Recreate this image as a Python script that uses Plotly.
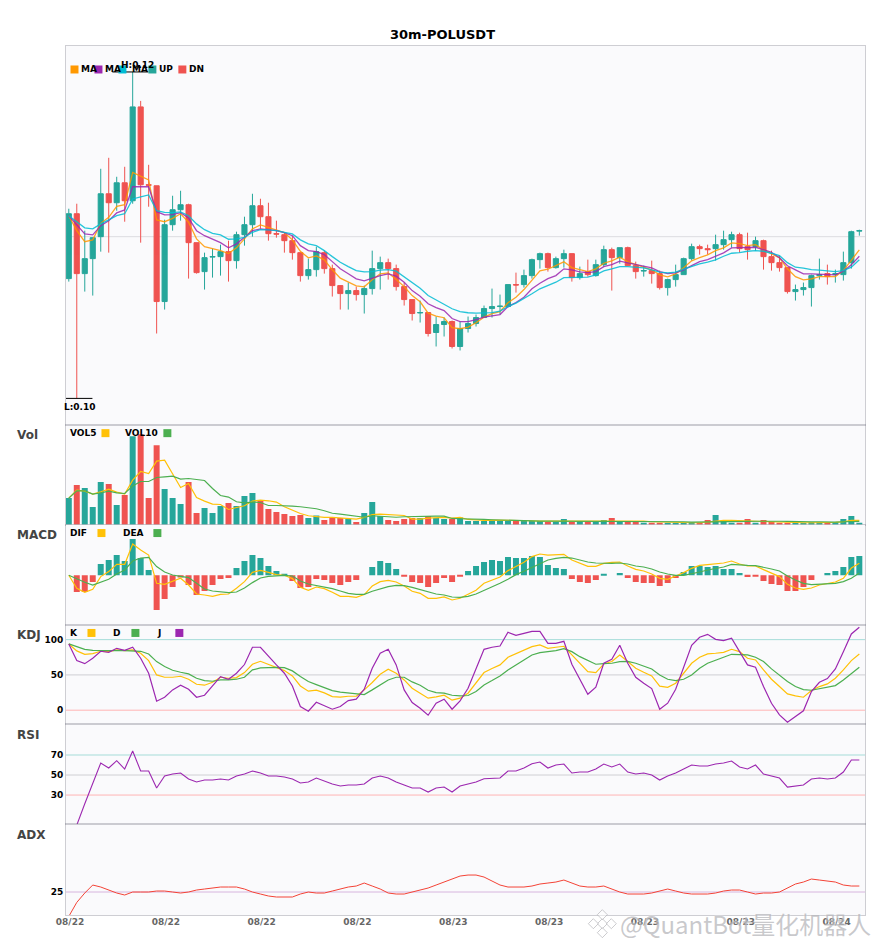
#Libraries
import numpy as np
import plotly.graph_objects as go
from plotly.subplots import make_subplots

#X axis, one 30m bar per position
bars = list(range(100))
tick_pos = [0, 12, 24, 36, 48, 60, 72, 84, 96]
tick_labels = ['08/22', '08/22', '08/22', '08/22', '08/23', '08/23', '08/23', '08/23', '08/24']

#Candles, price x 1e5
opens = [11000, 11325, 11025, 11100, 11210, 11425, 11380, 11480, 11390, 11860,
         11470, 11465, 10885, 11270, 11345, 11370, 11180, 11035, 11108, 11110,
         11135, 11090, 11220, 11270, 11365, 11310, 11225, 11220, 11190, 11130,
         11015, 11045, 11130, 11050, 10965, 10925, 10940, 10920, 10950, 11050,
         11080, 11050, 10960, 10895, 10828, 10830, 10730, 10770, 10785, 10660,
         10750, 10775, 10805, 10850, 10860, 10860, 10970, 10970, 11015, 11095,
         11125, 11055, 11100, 11125, 11005, 11035, 11015, 11070, 11145, 11105,
         11155, 11065, 11038, 11040, 11025, 10955, 10995, 11020, 11100, 11160,
         11150, 11150, 11170, 11195, 11220, 11160, 11160, 11190, 11110, 11080,
         11055, 10935, 10945, 10955, 11015, 11025, 11020, 11020, 11080, 11238]
closes = [11325, 11025, 11100, 11205, 11425, 11380, 11480, 11390, 11860, 11470,
          11468, 10885, 11270, 11345, 11370, 11180, 11030, 11105, 11110, 11135,
          11090, 11220, 11270, 11365, 11310, 11225, 11223, 11190, 11130, 11015,
          11045, 11135, 11050, 10965, 10925, 10940, 10920, 10950, 11050, 11080,
          11050, 10960, 10895, 10825, 10830, 10725, 10770, 10785, 10660, 10750,
          10775, 10805, 10850, 10860, 10862, 10970, 10968, 11015, 11095, 11125,
          11055, 11100, 11125, 11005, 11025, 11020, 11070, 11145, 11105, 11155,
          11065, 11035, 11040, 11025, 10955, 10995, 11020, 11100, 11160, 11150,
          11145, 11170, 11195, 11220, 11150, 11145, 11190, 11110, 11080, 11055,
          10935, 10945, 10955, 11015, 11020, 11010, 11025, 11080, 11235, 11240]
highs = [11350, 11375, 11240, 11205, 11550, 11605, 11510, 11560, 12035, 11890,
         11570, 11465, 11295, 11415, 11440, 11375, 11180, 11130, 11150, 11170,
         11190, 11235, 11310, 11425, 11400, 11380, 11290, 11230, 11215, 11130,
         11100, 11160, 11140, 11070, 10965, 10980, 10960, 10965, 11140, 11110,
         11100, 11070, 10980, 10895, 10890, 10830, 10810, 10805, 10790, 10785,
         10810, 10820, 10865, 10950, 10920, 10970, 11030, 11045, 11100, 11130,
         11130, 11110, 11145, 11125, 11060, 11095, 11095, 11165, 11155, 11155,
         11160, 11085, 11065, 11090, 11040, 11000, 11070, 11105, 11175, 11170,
         11170, 11220, 11240, 11235, 11230, 11230, 11210, 11195, 11140, 11115,
         11055, 10970, 10980, 11020, 11100, 11070, 11045, 11135, 11240, 11245]
lows = [10985, 10400, 10935, 10915, 11135, 11130, 11340, 11285, 11375, 11180,
        11360, 10725, 10845, 11240, 11290, 11000, 11025, 10945, 11005, 11015,
        10985, 11050, 11165, 11210, 11250, 11190, 11205, 11130, 11095, 10985,
        10995, 11010, 11025, 10910, 10845, 10845, 10890, 10825, 10920, 10945,
        10995, 10940, 10865, 10790, 10780, 10710, 10660, 10710, 10650, 10640,
        10730, 10760, 10805, 10805, 10820, 10855, 10930, 10955, 11000, 11050,
        11035, 11050, 11055, 10985, 10995, 11010, 11010, 11060, 10940, 11075,
        11065, 11000, 11010, 10975, 10945, 10915, 10960, 11020, 11090, 11120,
        11120, 11090, 11145, 11155, 11130, 11095, 11140, 11045, 11040, 11035,
        10925, 10890, 10915, 10860, 10995, 10970, 10980, 10990, 11050, 11215]

#Moving averages, price x 1e5
ma5 = [11315, 11240, 11185, 11194, 11277, 11307, 11362, 11370, 11532, 11512,
       11494, 11294, 11285, 11302, 11325, 11282, 11199, 11160, 11149, 11140,
       11125, 11154, 11199, 11249, 11269, 11257, 11245, 11230, 11194, 11137,
       11104, 11114, 11094, 11044, 11002, 10984, 10964, 10959, 10994, 11024,
       11029, 10995, 10960, 10915, 10884, 10827, 10812, 10804, 10754, 10749,
       10757, 10779, 10807, 10825, 10835, 10879, 10907, 10945, 10990, 11039,
       11047, 11065, 11084, 11055, 11044, 11035, 11049, 11077, 11089, 11107,
       11084, 11069, 11057, 11044, 11019, 11009, 11024, 11054, 11089, 11105,
       11119, 11140, 11154, 11179, 11175, 11165, 11170, 11144, 11124, 11104,
       11049, 11010, 10994, 10999, 11010, 11010, 11010, 11040, 11095, 11144]
ma10 = [11315, 11269, 11224, 11219, 11265, 11290, 11329, 11344, 11460, 11460,
        11460, 11335, 11319, 11320, 11330, 11304, 11240, 11215, 11199, 11180,
        11154, 11174, 11207, 11240, 11249, 11244, 11240, 11230, 11215, 11165,
        11140, 11135, 11120, 11085, 11049, 11024, 10999, 10989, 11002, 11015,
        11024, 11012, 10982, 10940, 10912, 10874, 10855, 10840, 10800, 10785,
        10785, 10794, 10807, 10815, 10820, 10860, 10880, 10907, 10949, 10977,
        11000, 11015, 11049, 11044, 11034, 11030, 11035, 11060, 11070, 11087,
        11079, 11069, 11062, 11054, 11035, 11025, 11029, 11044, 11065, 11085,
        11095, 11112, 11129, 11154, 11154, 11157, 11157, 11145, 11132, 11104,
        11064, 11044, 11024, 11024, 11022, 11020, 11019, 11037, 11069, 11112]
ma20 = [11315, 11285, 11254, 11249, 11274, 11294, 11315, 11325, 11399, 11409,
        11419, 11340, 11332, 11330, 11334, 11315, 11274, 11245, 11227, 11219,
        11197, 11199, 11207, 11232, 11245, 11244, 11240, 11232, 11224, 11194,
        11174, 11165, 11140, 11110, 11082, 11060, 11040, 11034, 11035, 11042,
        11045, 11037, 11010, 10982, 10952, 10915, 10894, 10874, 10849, 10835,
        10829, 10827, 10830, 10830, 10837, 10860, 10877, 10899, 10924, 10949,
        10964, 10982, 11005, 11005, 11007, 11007, 11019, 11039, 11049, 11060,
        11060, 11057, 11054, 11044, 11032, 11029, 11032, 11047, 11060, 11074,
        11082, 11094, 11112, 11127, 11130, 11137, 11140, 11137, 11127, 11115,
        11080, 11057, 11052, 11045, 11042, 11037, 11035, 11040, 11057, 11094]

#Volume
vol = [26.7, 39.7, 36.7, 17.7, 42.7, 40.7, 19.7, 29.7, 88.7, 90.7,
       26.7, 79.7, 35.7, 26.7, 20.7, 42.7, 11.7, 16.7, 11.7, 18.7,
       21.7, 18.7, 28.7, 31.7, 24.7, 15.7, 12.7, 10.7, 8.7, 9.7,
       6.7, 9.3, 4.7, 6.7, 6.7, 5.7, 2.7, 11.7, 22.7, 8.7,
       4.7, 3.7, 5.7, 6.7, 6.7, 8.7, 6.7, 5.7, 5.7, 7.3,
       3.7, 3.7, 3.7, 3.7, 4.7, 4.7, 3.7, 4.7, 3.7, 3.7,
       2.7, 2.7, 5.7, 2.7, 3.7, 2.7, 2.7, 4.7, 6.7, 3.7,
       2.7, 2.7, 1.7, 1.7, 1.7, 1.7, 1.7, 1.7, 2.7, 1.7,
       4.7, 9.7, 3.7, 1.7, 1.7, 5.7, 1.7, 4.7, 2.7, 1.7,
       1.7, 2.7, 1.7, 2.7, 2.7, 1.7, 2.7, 5.7, 8.7, 1.7]
vol5 = [26.7, 34.7, 33.7, 30.7, 33, 35.7, 32.7, 30.7, 44.7, 53.3,
        51.3, 63.7, 64.7, 50.7, 37.3, 41.3, 27.3, 23.7, 20.7, 20.3,
        15.3, 17.3, 19, 23.7, 24.7, 24, 22.7, 18, 14.7, 11.3,
        9, 8, 7.3, 7.3, 7, 6.3, 5.7, 7.3, 10.3, 10.7,
        10.3, 10.3, 9.3, 5.7, 5.7, 6.7, 7, 7.3, 6.7, 7.3,
        5.3, 4.7, 4.3, 4.7, 4.7, 4.7, 4, 4, 4, 3.7,
        3.7, 3.7, 3.7, 3.7, 3.7, 3.7, 3.7, 3.7, 4, 4.3,
        4.3, 4.3, 3.7, 3, 2.7, 2.3, 2, 2, 2, 2,
        2.7, 4, 4.3, 4.3, 4, 4, 3.3, 3.3, 3.3, 3,
        2.7, 2.3, 2, 2, 2, 2, 2.3, 3, 4.3, 4.3]
vol10 = [26.7, 34, 34, 30.7, 32, 33.7, 32, 31.3, 38.7, 43.3,
         43.3, 47.3, 48, 48.7, 45.7, 46.3, 45.3, 44.3, 36.3, 29.3,
         27.7, 23, 22, 22.7, 22.3, 19.3, 19.3, 19.3, 18.7, 18,
         17, 16, 14, 11.5, 10.7, 9.5, 9, 7.5, 9, 8.7,
         8, 7.5, 8, 8.3, 8, 8.7, 8.7, 8.7, 6.3, 6,
         6, 5.7, 5.3, 5, 4.7, 4.7, 4.3, 4, 4, 3.7,
         3.7, 3.7, 3.7, 3.7, 3.5, 3.3, 3.3, 3.3, 3.7, 3.7,
         3.7, 3.7, 3.7, 3.5, 3.3, 3.3, 3, 3, 2.7, 2.7,
         2.7, 3, 3.3, 3.3, 3.3, 3.3, 3.5, 3.7, 3.7, 3.5,
         3.3, 3, 3, 3, 3, 2.7, 2.7, 3, 3.3, 3.3]

#MACD
macd_hist = [0, -16.7, -16.7, -6.7, 11.3, 15.3, 20.3, 14.3, 36.3, 17.3,
             5.3, -34.7, -23.7, -11.7, -2.3, -9.7, -19.7, -15.7, -9.7, -3.7,
             -2.7, 7.3, 14.3, 20.3, 17.3, 9.3, 4.3, 0.7, -5.7, -12.7,
             -11.7, -3.7, -4.7, -7.7, -9.7, -6.7, -4.7, 0, 8.3, 14.3,
             12.3, 6.3, -0.7, -6.7, -7.7, -11.7, -7.7, -2.7, -6.7, -0.7,
             4.3, 9.3, 13.3, 15.3, 14.3, 18.3, 17.3, 17.3, 19.3, 18.3,
             10.3, 7.3, 6.3, -3.7, -6.7, -7.7, -4.7, 1.3, 0, 2.3,
             -2.7, -6.7, -7.7, -7.7, -10.7, -7.7, -2.7, 3.3, 9.3, 9.3,
             8.3, 9.3, 6.3, 6.3, 2.3, -1.7, -0.7, -5.7, -8.7, -9.7,
             -15.7, -15.7, -11.7, -4.7, 0, 2.3, 4.3, 8.3, 18.3, 19.3]
dif = [0, -13, -17, -14, -1.3, 3.7, 11, 11, 31.3, 25.3,
       20.3, -8, -9, -6.3, -3, -9.7, -18.7, -19.7, -21, -19,
       -18.7, -13, -6.3, 3, 5, 3, 0.7, 0, -3.3, -12,
       -15, -11.7, -13.3, -17, -21, -21, -22, -19.3, -10.7, -6.3,
       -5, -6.7, -10.7, -16, -18, -23, -23, -21.7, -24.7, -23,
       -19, -15, -8, -4.7, -1.7, 4.7, 9, 13, 18.7, 21.3,
       20.3, 20.3, 21, 15.3, 12, 9, 9, 12, 13, 13.3,
       9.3, 6, 4.3, 1.3, -3, -4, -0.7, 2.7, 7, 10,
       10.7, 11.3, 12.3, 14.3, 11.3, 9.3, 9.3, 5.7, 2, -1.3,
       -9, -12.7, -14, -12.7, -9.7, -8, -6.7, -3, 7.3, 12]
dea = [0, -3.7, -7, -9.7, -6.7, -4, 1.3, 5.3, 14.3, 17.3,
       18, 8.7, 3.3, 0.3, -1, -2.3, -8, -13.7, -15.7, -16.7,
       -17.3, -16.7, -12.7, -7.3, -2.7, -1, -0.3, 0, -0.7, -5.7,
       -8.7, -10, -11.7, -13.3, -15.7, -18, -19, -19, -16, -13.3,
       -11.3, -10, -10.3, -12, -14, -16.7, -18.7, -19.7, -21.7, -22,
       -21, -18.7, -15.3, -11.7, -8, -4, 0.7, 4, 7.7, 12,
       15.3, 17, 18, 17.3, 15.3, 13.3, 12.3, 12, 12, 12.3,
       11.3, 9.3, 8.3, 6.3, 3.3, 1.3, 0, 0, 1.3, 3.3,
       5.3, 7, 8.3, 11, 10.3, 10, 9.7, 8.3, 6.3, 4.3,
       -0.7, -4.7, -8, -9.3, -9, -8.7, -8, -6.3, -3, 2.3]

#KDJ
kdj_k = [93.9, 84, 79.2, 80.2, 83.5, 83, 85.4, 84.4, 85.4, 80.7,
         70.3, 50, 46.7, 46.7, 48.1, 43.9, 36.8, 35.4, 39.6, 46.7,
         45.3, 46.2, 53.3, 65.1, 69.3, 65.1, 60.4, 56.1, 48.6, 34.4,
         26.9, 28.3, 24.5, 19.3, 18.4, 19.8, 19.8, 28.8, 39.2, 50.9,
         58, 52.4, 42.9, 31.1, 24.1, 17, 18.9,
         21.2, 14.2, 17, 24.1, 38.2, 53.3, 59, 64.2, 75, 79.7,
         84.4, 90.1, 92.5, 87.7, 89.2, 90.6, 78.3, 66.5, 54.7, 53.3,
         65.6, 68.9, 78.3, 68.9, 59.4, 53.8, 48.6, 34, 32.5, 38.2,
         52.4, 66.5, 75, 79.7, 80.7, 82, 86.3, 83, 73.6, 71.2,
         57.1, 43.9, 33.5, 23.1, 20.3, 18.4, 27.8, 33.5, 37.3, 45.3,
         57.1, 70.3, 79.7]
kdj_d = [93.9, 90.1, 86.3, 84.9, 84.4, 84.4, 84.4, 84.4, 84.4, 83.5,
         79.7, 68.9, 61.8, 56.6, 53.8, 51.4, 45.3, 42, 41, 42.9,
         42.9, 43.9, 46.7, 57.1, 59.9, 60.8, 60.8, 60.4, 55.7, 47.6,
         40.6, 36.3, 32.5, 27.8, 25.5, 24.1, 23.1, 22.2, 28.8, 35.8,
         42.9, 46.7, 46.7, 40.1, 35.4, 28.3, 25,
         24.1, 21.2, 20.3, 20.8, 26.4, 35.8, 42, 48.6, 57.1, 64.7,
         71.2, 78.3, 81.6, 83, 84.4, 87.3, 83, 75.9, 70.3, 65.1,
         66, 66.5, 68.9, 69.3, 66.5, 62.7, 58.5, 50, 43.9, 42,
         43.9, 50, 59.4, 66.5, 71.2, 75, 79.2, 79.2, 78.3, 75,
         68.9, 58.5, 50, 40.6, 33.5, 29.2, 28.3, 30.2, 32.5, 34.9,
         42.9, 52.4, 60.8]
kdj_j = [93.9, 70.3, 66, 73.6, 83.5, 82, 87.7, 84.9, 89.2, 73.6,
         52.4, 12.7, 18.4, 28.8, 35.4, 29.7, 18.4, 21.2, 34.4, 47.6,
         43.9, 52.4, 64.7, 89.2, 89.2, 76, 64.2, 52.4, 34.4, 5.2,
         -1.4, 11.3, 6.1, 1.4, 5.2, 13.7, 15.6, 29.7, 59.4, 80.7,
         86.3, 64.2, 28.8, 10.8, 2.8, -7.1, 9.9,
         15.6, 1.4, 13.2, 31.1, 59.4, 86.3, 89.2, 91, 110.4, 106.1,
         108.9, 111.8, 111.8, 94.8, 94.8, 97.6, 65.1, 43.9, 22.6, 32.5,
         66.5, 72.2, 92, 66.5, 46.7, 38.2, 30.6, 1.4, 9.9, 29.7,
         61.8, 92, 103.3, 107.5, 100.4, 98.6, 101.9, 83, 64.2, 60.8,
         33.5, 9.9, -6.6, -17, -9, -0.9, 26.4, 39.6, 44.8, 58.5,
         83, 108, 117.5]

#RSI
rsi = [0, 0, 21.3, 41, 62, 57, 64.3, 56, 74, 54,
       54, 37, 49, 51, 52, 46, 43, 45, 45, 46,
       45, 49, 51, 54, 52, 49, 49, 48, 46, 42,
       43, 47, 44, 41, 39, 40, 40, 41, 47, 49,
       47, 43, 40, 37, 37, 33, 37,
       38, 33, 39, 41, 43, 46.3, 47, 47, 54, 54,
       57, 61.3, 63, 57, 60, 61, 52, 53, 53, 56,
       61, 58, 61, 53, 51, 52, 50, 45, 49, 52,
       56, 60, 59, 59, 61, 62, 64, 58, 56, 60,
       51, 49, 47, 38, 39, 40, 46, 47, 46, 47,
       53, 65, 65]

#ADX
adx = [12.8, 19.8, 24.5, 28.5, 27.5, 26, 24.5, 23.5, 25, 25,
       25, 25.5, 25.5, 25, 24.5, 25, 26, 26.5, 27, 27.5,
       27.5, 27.5, 26.5, 25, 24, 23, 22.5, 22.5, 22.5, 24,
       25, 24.5, 24.5, 25.5, 26.5, 27.5, 28, 29.5, 28, 26.5,
       24.5, 24, 24, 25, 26, 27, 28.5,
       30, 31.5, 33, 33.5, 33.5, 32.5, 30.5, 28.5, 27.5, 27.5,
       27.5, 28, 29, 29.5, 30, 31, 29.5, 28, 27.5, 27.5,
       28, 26.5, 25, 24, 24, 24, 24.5, 25.5, 26.5, 25.5,
       24.5, 24, 24, 24, 24.5, 25.5, 26, 26, 25, 24,
       24.5, 24.5, 25, 27, 29, 30, 31.5, 31, 30.5, 30,
       28.5, 28, 28]

#Colors
UP = '#26a69a'
DN = '#ef5350'
ORANGE = '#ff9800'
PURPLE = '#9c27b0'
CYAN = '#00bcd4'
YELLOW = '#ffc107'
GREEN = '#4caf50'
FONT = 'DejaVu Sans'

#Page has an 8px body margin, sizes below are in reference pixels
WIDTH, HEIGHT = 869, 934
PLOT_L, PLOT_R, PLOT_T, PLOT_B = 65.5, 865.5, 45.5, 915.3

def px_x(px):
    return (px - PLOT_L) / (PLOT_R - PLOT_L)

def px_y(py):
    return (PLOT_B - py) / (PLOT_B - PLOT_T)

#Back to prices
px_open = np.array(opens) / 1e5
px_close = np.array(closes) / 1e5
px_high = np.array(highs) / 1e5
px_low = np.array(lows) / 1e5

fig = make_subplots(rows=6, cols=1, shared_xaxes=True, vertical_spacing=0,
                    row_heights=[379.2, 100, 100, 99.6, 100, 91])

#Price panel
fig.add_trace(go.Candlestick(x=bars, open=px_open, high=px_high, low=px_low, close=px_close,
                             whiskerwidth=0,
                             increasing=dict(line=dict(color=UP, width=1), fillcolor=UP),
                             decreasing=dict(line=dict(color=DN, width=1), fillcolor=DN)),
              row=1, col=1)
for serie, color in [(ma5, ORANGE), (ma10, PURPLE), (ma20, CYAN)]:
    fig.add_trace(go.Scatter(x=bars, y=np.array(serie) / 1e5, mode='lines',
                             line=dict(color=color, width=1.3), opacity=0.85), row=1, col=1)

#Highest and lowest bar marks
i_high = int(np.argmax(px_high))
i_low = int(np.argmin(px_low))
for i, value in [(i_high, px_high[i_high]), (i_low, px_low[i_low])]:
    fig.add_trace(go.Scatter(x=[i - 2.54, i + 1.96], y=[value, value], mode='lines',
                             line=dict(color='black', width=1), cliponaxis=False), row=1, col=1)
fig.add_annotation(text='H:0.12', x=i_high + 0.55, y=px_high[i_high], xref='x', yref='y', yshift=7,
                   showarrow=False, font=dict(family=FONT, size=9, color='black', weight='bold'))
fig.add_annotation(text='L:0.10', x=i_low + 0.4, y=px_low[i_low], xref='x', yref='y', yshift=-9,
                   showarrow=False, font=dict(family=FONT, size=9, color='black', weight='bold'))

#Volume panel
fig.add_trace(go.Bar(x=bars, y=vol, marker=dict(color=[UP if c >= o else DN for o, c in zip(opens, closes)], line_width=0)),
              row=2, col=1)
for serie, color in [(vol5, YELLOW), (vol10, GREEN)]:
    fig.add_trace(go.Scatter(x=bars, y=serie, mode='lines', line=dict(color=color, width=1.2)), row=2, col=1)

#MACD panel
fig.add_trace(go.Bar(x=bars, y=macd_hist, marker=dict(color=[UP if v >= 0 else DN for v in macd_hist], line_width=0)),
              row=3, col=1)
for serie, color in [(dif, YELLOW), (dea, GREEN)]:
    fig.add_trace(go.Scatter(x=bars, y=serie, mode='lines', line=dict(color=color, width=1.2)), row=3, col=1)

#KDJ panel
for serie, color in [(kdj_k, YELLOW), (kdj_d, GREEN), (kdj_j, PURPLE)]:
    fig.add_trace(go.Scatter(x=bars, y=serie, mode='lines', line=dict(color=color, width=1.2)), row=4, col=1)

#RSI and ADX panels
fig.add_trace(go.Scatter(x=bars, y=rsi, mode='lines', line=dict(color=PURPLE, width=1.1)), row=5, col=1)
fig.add_trace(go.Scatter(x=bars, y=adx, mode='lines', line=dict(color='#f44336', width=1)), row=6, col=1)

#Reference lines
for value, row, color in [(0.1121, 1, '#dcdce0'), (0, 3, '#dcdce0'),
                          (100, 4, '#a5dcd8'), (50, 4, '#cfcfd3'), (0, 4, '#ffb4b4'),
                          (70, 5, '#a5dcd8'), (50, 5, '#cfcfd3'), (30, 5, '#ffb4b4'),
                          (25, 6, '#d7b5de')]:
    fig.add_hline(y=value, row=row, col=1, line=dict(color=color, width=1), layer='below')

#Axes
frame = dict(showline=True, mirror=True, linecolor='rgba(110,110,125,0.34)', linewidth=1, showgrid=False, zeroline=False)
fig.update_xaxes(range=[-0.35, 99.71], ticks='', showticklabels=False, rangeslider_visible=False, **frame)
fig.update_xaxes(row=6, col=1, showticklabels=True, tickmode='array', tickvals=[p + 0.15 for p in tick_pos], ticktext=tick_labels,
                 ticklabelstandoff=-2, tickfont=dict(family=FONT, size=9, color='#666666', weight='bold'))
fig.update_yaxes(ticks='', showticklabels=False, **frame)
tick_font = dict(family=FONT, size=9, color='black', weight='bold')
fig.update_yaxes(row=1, col=1, range=[0.102675, 0.12165])
fig.update_yaxes(row=2, col=1, range=[0, 100])
fig.update_yaxes(row=3, col=1, range=[-49.4, 50.6])
fig.update_yaxes(row=4, col=1, range=[-19.8, 121.2], showticklabels=True, tickmode='array',
                 tickvals=[0, 50, 100], tickfont=tick_font)
fig.update_yaxes(row=5, col=1, range=[1, 100.8], showticklabels=True, tickmode='array',
                 tickvals=[30, 50, 70], tickfont=tick_font)
fig.update_yaxes(row=6, col=1, range=[13.5, 59], showticklabels=True, tickmode='array',
                 tickvals=[25], tickfont=tick_font)

#Panel names
for name, py in [('Vol', 435), ('MACD', 535), ('KDJ', 635), ('RSI', 735), ('ADX', 835)]:
    fig.add_annotation(text=name, x=px_x(16), y=px_y(py), xref='paper', yref='paper', xanchor='left', yanchor='middle',
                       showarrow=False, borderpad=0, borderwidth=0,
                       font=dict(family=FONT, size=12, color='#444444', weight='bold'))

#Hand made legends: text, text x, square x, color
legends = [(69, [('MA', 81, 70, ORANGE), ('MA', 105, 94, PURPLE), ('MA', 132, 118, CYAN),
                 ('UP', 159, 148, UP), ('DN', 189, 178, DN)]),
           (433, [('VOL5', 70, 101, YELLOW), ('VOL10', 125, 163, GREEN)]),
           (533, [('DIF', 70, 97, YELLOW), ('DEA', 123, 153, GREEN)]),
           (633, [('K', 70, 87, YELLOW), ('D', 113, 131, GREEN), ('J', 157, 175, PURPLE)])]
for py, items in legends:
    for text, text_x, box_x, color in items:
        fig.add_shape(type='rect', xref='paper', yref='paper', x0=px_x(box_x), x1=px_x(box_x + 8),
                      y0=px_y(py + 4), y1=px_y(py - 4), fillcolor=color, line_width=0)
        fig.add_annotation(text=text, x=px_x(text_x), y=px_y(py), xref='paper', yref='paper',
                           xanchor='left', yanchor='middle', showarrow=False, borderpad=0, borderwidth=0,
                           font=dict(family=FONT, size=9, color='black', weight='bold'))

#Watermark
fig.add_annotation(text='@QuantBot量化机器人', x=px_x(620), y=px_y(923.5), xref='paper', yref='paper',
                   xanchor='left', yanchor='middle', showarrow=False, borderpad=0, borderwidth=0,
                   font=dict(family='Noto Sans CJK SC', size=24, color='rgba(165,165,170,0.6)', shadow='0 0 2px white'))
for cx, cy, r in [(602.5, 924, 5), (593.5, 924, 5), (611.5, 924, 5), (602.5, 915, 5), (602.5, 933, 5)]:
    path = 'M {} {} L {} {} L {} {} L {} {} Z'.format(px_x(cx - r), px_y(cy), px_x(cx), px_y(cy - r),
                                                     px_x(cx + r), px_y(cy), px_x(cx), px_y(cy + r))
    fig.add_shape(type='path', path=path, xref='paper', yref='paper',
                  fillcolor='rgba(255,255,255,0.5)', line=dict(color='rgba(170,170,175,0.6)', width=1))

fig.update_layout(width=WIDTH, height=HEIGHT, showlegend=False, bargap=0.25, boxgap=0.36, boxgroupgap=0,
                  paper_bgcolor='white', plot_bgcolor='#fafafc',
                  margin=dict(l=PLOT_L - 8, r=WIDTH + 8 - PLOT_R, t=PLOT_T - 8, b=HEIGHT + 8 - PLOT_B, pad=0),
                  title=dict(text='30m-POLUSDT', x=0.5, xanchor='center', y=1 - 26.5 / HEIGHT, yanchor='middle',
                             font=dict(family=FONT, size=13, color='black', weight='bold')))

fig.write_html("out.html")
